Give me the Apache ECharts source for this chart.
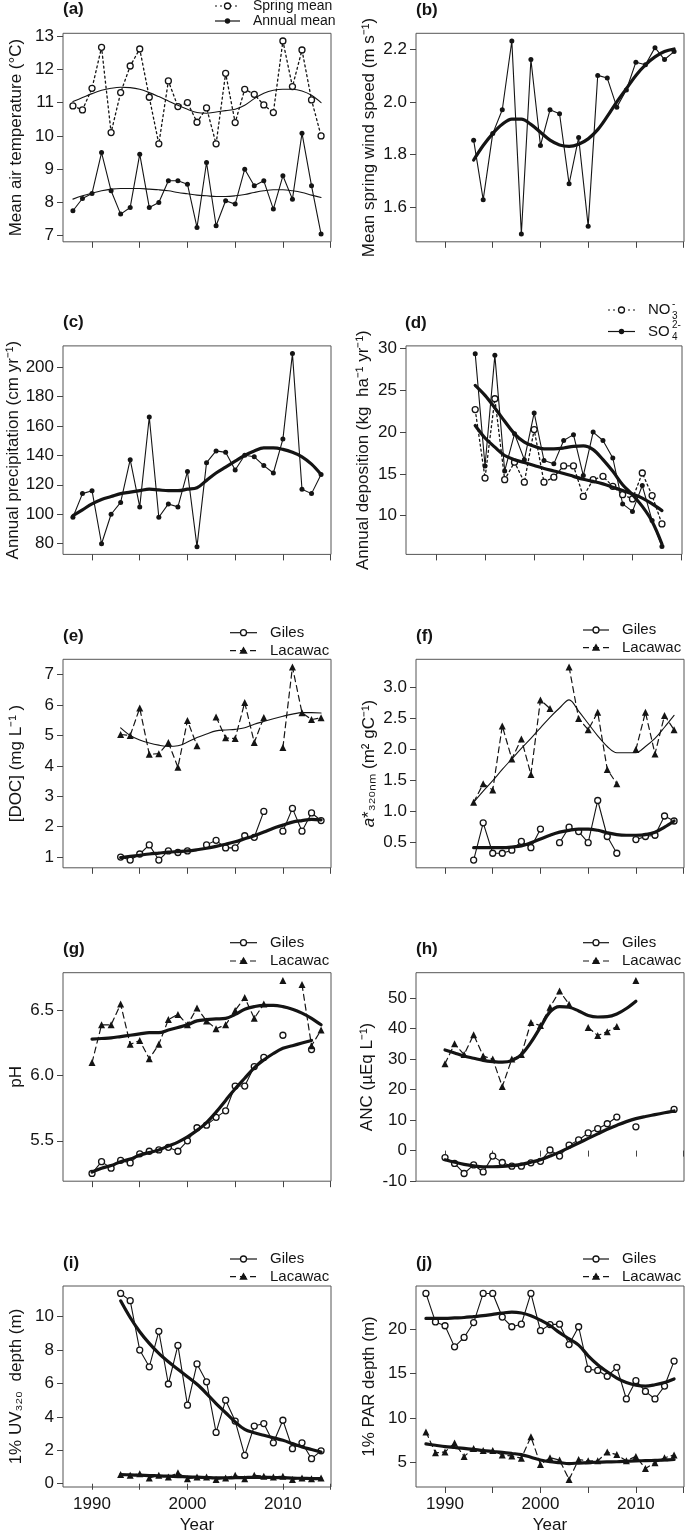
<!DOCTYPE html>
<html><head><meta charset="utf-8">
<script src="https://cdn.jsdelivr.net/npm/echarts@6/dist/echarts.min.js"></script>
<style>html,body{margin:0;padding:0;background:#fff}#c{width:685px;height:1535px}</style>
</head><body><div id="c"></div>
<script>
// ---------------- DATA ----------------
// (a) air temperature
const yrA = [1988,1989,1990,1991,1992,1993,1994,1995,1996,1997,1998,1999,2000,2001,2002,2003,2004,2005,2006,2007,2008,2009,2010,2011,2012,2013,2014];
const springMean = [10.90,10.78,11.43,12.66,10.10,11.30,12.10,12.61,11.16,9.76,11.65,10.88,11.00,10.41,10.84,9.76,11.88,10.40,11.40,11.25,10.93,10.70,12.85,11.48,12.58,11.08,10.00];
const annualMean = [7.75,8.12,8.27,9.50,8.35,7.65,7.85,9.45,7.85,8.00,8.65,8.65,8.55,7.25,9.20,7.30,8.05,7.95,9.00,8.50,8.65,7.80,8.80,8.10,10.08,8.50,7.05];
const springSmooth = [11.03,11.15,11.27,11.37,11.43,11.46,11.45,11.40,11.30,11.18,11.05,10.92,10.80,10.70,10.68,10.72,10.76,10.80,10.92,11.12,11.28,11.37,11.40,11.40,11.35,11.22,11.00];
const annualSmooth = [8.10,8.20,8.28,8.35,8.40,8.42,8.42,8.42,8.40,8.38,8.35,8.30,8.26,8.22,8.20,8.18,8.18,8.20,8.24,8.30,8.35,8.38,8.38,8.35,8.30,8.22,8.15];
// (b) wind speed
const yrB = [1993,1994,1995,1996,1997,1998,1999,2000,2001,2002,2003,2004,2005,2006,2007,2008,2009,2010,2011,2012,2013,2014];
const windSpeed = [1.855,1.63,1.88,1.97,2.23,1.50,2.16,1.835,1.97,1.955,1.69,1.865,1.53,2.10,2.09,1.98,2.045,2.15,2.14,2.205,2.16,2.19];
const windSmooth = [1.78,1.835,1.88,1.915,1.935,1.935,1.915,1.885,1.855,1.837,1.832,1.84,1.86,1.895,1.945,2.0,2.05,2.1,2.14,2.17,2.19,2.2];
// (c) precipitation
const yrC = yrA;
const precip = [98,114,116,80,100,108,137,105,166,98,107,105,129,78,135,143,142,130,140,139,133,128,151,209,117,114,127];
const precipSmooth = [99,103,107,110,112,114,115,116,117,116.5,116,116,117,118,123,128,132,136,140,143,145,145,144,142,139,134,127];
// (d) deposition
const yrD = [1994,1995,1996,1997,1998,1999,2000,2001,2002,2003,2004,2005,2006,2007,2008,2009,2010,2011,2012,2013];
const no3 = [22.7,14.5,24.0,14.3,16.4,14.0,20.3,14.0,14.6,15.95,15.95,12.3,14.3,14.7,13.5,12.5,12.0,15.1,12.4,9.0];
const so4 = [29.4,15.95,29.2,15.35,19.8,16.7,22.3,16.6,16.2,19.0,19.7,14.8,20.0,19.0,16.9,11.4,10.5,13.6,9.4,6.3];
const so4Smooth = [25.6,24.4,22.9,21.3,19.8,18.8,18.3,18.0,18.0,18.1,18.3,18.35,17.9,16.7,15.3,13.7,12.5,11.1,9.3,6.6];
const no3Smooth = [20.8,19.3,18.2,17.2,16.7,16.35,16.0,15.65,15.35,15.05,14.7,14.35,14.1,13.8,13.4,13.0,12.6,12.1,11.4,10.6];
// (e) DOC
const yrE = yrB;
const docGiles = [1.0,0.9,1.1,1.4,0.9,1.2,1.15,1.2,null,1.4,1.55,1.3,1.3,1.7,1.65,2.5,null,1.85,2.6,1.85,2.45,2.2];
const docLacawac = [5.03,5.0,5.9,4.38,4.4,4.77,3.95,5.49,4.66,null,5.61,4.92,4.9,6.08,4.77,5.59,null,4.6,7.25,5.75,5.52,5.58];
const docGilesSmooth = [0.98,1.02,1.06,1.1,1.13,1.16,1.18,1.2,1.24,1.29,1.35,1.42,1.5,1.6,1.7,1.82,1.95,2.05,2.15,2.2,2.24,2.22];
const docLacSmooth = [5.25,5.0,4.85,4.75,4.68,4.64,4.66,4.78,4.93,5.05,5.15,5.18,5.2,5.25,5.37,5.46,5.55,5.63,5.7,5.75,5.75,5.74];
// (f) a*320
const yrF = yrB;
const a320Giles = [0.22,0.82,0.33,0.33,0.38,0.52,0.42,0.72,null,0.5,0.75,0.68,0.5,1.18,0.6,0.33,null,0.55,0.6,0.62,0.93,0.85];
const a320Lac = [1.15,1.45,1.35,2.38,1.85,2.17,1.6,2.8,2.66,null,3.33,2.5,2.32,2.6,1.68,1.45,null,2.0,2.6,1.93,2.55,2.32];
const a320GilesSmooth = [0.42,0.42,0.42,0.42,0.43,0.45,0.5,0.56,0.62,0.67,0.7,0.72,0.72,0.7,0.66,0.63,0.62,0.62,0.63,0.67,0.75,0.85];
const a320LacSmooth = [1.15,1.33,1.5,1.68,1.85,2.02,2.18,2.35,2.52,2.67,2.8,2.62,2.42,2.22,2.05,1.95,1.95,1.95,2.05,2.18,2.36,2.55];
// (g) pH
const yrG = [1990,1991,1992,1993,1994,1995,1996,1997,1998,1999,2000,2001,2002,2003,2004,2005,2006,2007,2008,2009,2010,2011,2012,2013,2014];
const phGiles = [5.25,5.34,5.29,5.35,5.33,5.4,5.42,5.43,5.45,5.42,5.5,5.6,5.62,5.68,5.73,5.92,5.92,6.07,6.14,null,6.31,null,null,6.2,null];
const phLac = [6.1,6.39,6.39,6.55,6.24,6.27,6.13,6.24,6.43,6.47,6.39,6.52,6.42,6.36,6.39,6.5,6.6,6.44,6.55,null,6.73,null,6.7,6.23,6.35];
const phGilesSmooth = [5.26,5.29,5.31,5.34,5.36,5.39,5.41,5.43,5.46,5.49,5.53,5.58,5.64,5.72,5.81,5.9,5.98,6.06,6.12,6.17,6.21,6.23,6.25,6.27,null];
const phLacSmooth = [6.28,6.285,6.29,6.3,6.31,6.32,6.33,6.33,6.35,6.37,6.39,6.42,6.43,6.435,6.44,6.47,6.51,6.53,6.54,6.54,6.53,6.51,6.48,6.44,6.39];
// (h) ANC
const yrH = yrG;
const ancGiles = [-2.3,-4.2,-7.5,-4.7,-7.0,-1.8,-3.9,-5.1,-5.1,-4.0,-3.5,0.2,-1.8,1.8,3.5,5.8,7.2,8.8,11.0,null,7.8,null,null,null,13.5];
const ancLac = [28.5,35,31.5,38,31,30,21,30,31.5,42,41,47,52.3,48,null,40.4,37.7,39,40.7,null,55.8,null,null,null,null];
const ancGilesSmooth = [-3.0,-3.8,-4.5,-5.0,-5.3,-5.3,-5.2,-4.9,-4.5,-3.8,-3.0,-1.8,-0.5,1.0,2.5,4.0,5.5,7.0,8.3,9.5,10.5,11.2,11.8,12.4,13.0];
const ancLacSmooth = [33,32,31,30.3,29.6,29.2,29.0,29.5,31.5,35.5,40.5,45.5,47.2,47.0,45.8,44.3,43.8,43.9,44.8,46.6,49.0,null,null,null,null];
// (i) UV320 depth
const yrI = yrB;
const uvGiles = [11.39,10.96,8.0,7.0,9.12,5.97,8.28,4.7,7.17,6.1,3.07,5.0,3.75,1.7,3.45,3.6,2.45,3.8,2.1,2.45,1.5,1.97];
const uvLac = [0.55,0.5,0.6,0.35,0.5,0.4,0.65,0.3,0.4,0.4,0.25,0.35,0.5,0.3,0.5,0.45,0.4,0.45,0.25,0.35,0.3,0.35];
const uvGilesSmooth = [10.95,9.95,9.1,8.4,7.8,7.3,6.85,6.4,5.95,5.4,4.8,4.25,3.7,3.25,3.05,2.9,2.75,2.6,2.4,2.2,2.05,1.9];
const uvLacSmooth = [0.55,0.53,0.51,0.49,0.47,0.45,0.43,0.41,0.39,0.37,0.35,0.35,0.36,0.37,0.38,0.38,0.37,0.36,0.34,0.32,0.31,0.3];
// (j) PAR depth
const yrJ = yrA;
const parGiles = [24.0,20.8,20.37,18.0,19.06,20.73,24.0,24.0,21.35,20.26,20.55,24.0,19.82,20.5,20.55,18.26,20.26,15.5,15.35,14.7,15.7,12.15,14.2,13.0,12.15,13.6,16.4];
const parLac = [8.45,6.1,6.2,7.2,5.7,6.6,6.35,6.35,5.85,5.75,5.5,7.9,4.8,5.55,5.3,3.1,5.35,5.2,5.2,6.2,5.9,5.2,5.7,4.35,5.0,5.55,5.85];
const parGilesSmooth = [21.2,21.2,21.2,21.25,21.3,21.4,21.5,21.65,21.8,21.9,21.8,21.5,21.0,20.4,19.6,18.9,18.2,17.0,16.0,15.2,14.5,14.0,13.7,13.6,13.75,14.0,14.4];
const parLacSmooth = [7.1,6.95,6.8,6.7,6.6,6.48,6.35,6.25,6.15,6.03,5.9,5.6,5.3,5.1,5.0,4.9,4.95,5.0,5.05,5.08,5.1,5.15,5.2,5.22,5.25,5.3,5.35];
// tick labels
const xTicks = [1990,1995,2000,2005,2010,2015];
const xLabels = [1990,2000,2010];

// ---------------- CHART ----------------
const FONT = '"Liberation Sans", Arial, Helvetica, sans-serif';
const INK = '#141414';
const LW = 268, RL = 416, LL = 63, H = 208.5;
const rows = [33.3, 345.9, 659.3, 972.7, 1286];

const panels = [
  {lab:'(a)', left:LL, top:rows[0], w:LW, ymin:6.818, ymax:13.082, ticks:[7,8,9,10,11,12,13], dec:0, name:'Mean air temperature (°C)', gap:38},
  {lab:'(b)', left:RL, top:rows[0], w:LW, ymin:1.4708, ymax:2.2592, ticks:[1.6,1.8,2.0,2.2], dec:1, name:'Mean spring wind speed (m s\u207B\u00B9)', gap:38},
  {lab:'(c)', left:LL, top:rows[1], w:LW, ymin:72.76, ymax:214.24, ticks:[80,100,120,140,160,180,200], dec:0, name:'Annual precipitation (cm yr\u207B\u00B9)', gap:40},
  {lab:'(d)', left:406, top:rows[1], w:276, ymin:5.35, ymax:30.33, ticks:[10,15,20,25,30], dec:0, name:'Annual deposition (kg  ha\u207B\u00B9 yr\u207B\u00B9)', gap:34},
  {lab:'(e)', left:LL, top:rows[2], w:LW, ymin:0.646, ymax:7.504, ticks:[1,2,3,4,5,6,7], dec:0, name:'[DOC] (mg L\u207B\u00B9 )', gap:38},
  {lab:'(f)', left:RL, top:rows[2], w:LW, ymin:0.096, ymax:3.454, ticks:[0.5,1.0,1.5,2.0,2.5,3.0], dec:1, name:'{i|a}*\u2083\u2082\u2080\u2099\u2098 (m\u00B2 gC\u207B\u00B9)', gap:38},
  {lab:'(g)', left:LL, top:rows[3], w:LW, ymin:5.19, ymax:6.79, ticks:[5.5,6.0,6.5], dec:1, name:'pH', gap:38},
  {lab:'(h)', left:RL, top:rows[3], w:LW, ymin:-10.03, ymax:58.33, ticks:[-10,0,10,20,30,40,50], dec:0, name:'ANC (\u00B5Eq L\u207B\u00B9)', gap:40},
  {lab:'(i)', left:LL, top:rows[4], w:LW, ymin:-0.196, ymax:11.836, ticks:[0,2,4,6,8,10], dec:0, name:'1% UV\u2083\u2082\u2080  depth (m)', gap:38},
  {lab:'(j)', left:RL, top:rows[4], w:LW, ymin:2.264, ymax:24.836, ticks:[5,10,15,20], dec:0, name:'1% PAR depth (m)', gap:38}
];

const grids = [], xAxes = [], yAxes = [];
panels.forEach((p, i) => {
  const bottom = i >= 8;
  grids.push({left:p.left, top:p.top, width:p.w, height:H, show:true, borderColor:'#555', borderWidth:1, backgroundColor:'transparent', containLabel:false});
  xAxes.push({type:'value', gridIndex:i, min:1986.96, max:2015.04,
    axisLine:{show:false}, splitLine:{show:false},
    axisTick:{show:true, length:6, customValues:xTicks, lineStyle:{color:'#444', width:1}},
    axisLabel:{show:bottom, customValues:xLabels, margin:9, fontSize:17, color:INK, fontFamily:FONT,
      formatter: v => String(Math.round(v))},
    name: bottom ? 'Year' : '', nameLocation:'middle', nameGap:30,
    nameTextStyle:{fontSize:17, color:INK, fontFamily:FONT}});
  yAxes.push({type:'value', gridIndex:i, min:p.ymin, max:p.ymax,
    axisLine:{show:false}, splitLine:{show:false},
    axisTick:{show:true, length:6, customValues:p.ticks, lineStyle:{color:'#444', width:1}},
    axisLabel:{customValues:p.ticks, margin:9, fontSize:17, color:INK, fontFamily:FONT,
      formatter: v => p.dec ? Number(v).toFixed(p.dec) : String(Math.round(v))},
    name:p.name, nameLocation:'middle', nameGap:p.gap, nameRotate:90,
    nameTextStyle:{fontSize:17, color:INK, fontFamily:FONT, rich:{i:{fontStyle:'italic', fontSize:17, fontFamily:FONT, color:INK}}}});
});

function pair(years, vals){ return years.map((y,k) => [y, vals[k] == null ? '-' : vals[k]]); }

const STY = {
  openDot:  {line:{width:1.3, type:[2,3]}, sym:'circle', size:6, item:{color:'#fff', borderColor:INK, borderWidth:1.3}},
  filled:   {line:{width:1.1, type:'solid'}, sym:'circle', size:5, item:{color:INK}},
  openSolid:{line:{width:1.1, type:'solid'}, sym:'circle', size:6, item:{color:'#fff', borderColor:INK, borderWidth:1.3}},
  triDash:  {line:{width:1.2, type:[6,4]}, sym:'triangle', size:7, item:{color:INK}},
  smThin:   {line:{width:1.1, type:'solid'}, sym:'none'},
  smThick:  {line:{width:3.2, type:'solid'}, sym:'none'}
};
const series = [];
function add(pi, years, vals, kind){
  const s = STY[kind];
  series.push({type:'line', xAxisIndex:pi, yAxisIndex:pi, data:pair(years, vals),
    symbol:s.sym, symbolSize:s.size || 0, showSymbol: s.sym !== 'none',
    smooth: s.sym === 'none' ? 0.35 : false, connectNulls:false,
    lineStyle:{color:INK, width:s.line.width, type:s.line.type, cap:'round', join:'round'},
    itemStyle:s.item || {color:INK}, emphasis:{disabled:true}, silent:true, z: s.sym === 'none' ? 3 : 2});
}
// (a)
add(0, yrA, springSmooth, 'smThin'); add(0, yrA, annualSmooth, 'smThin');
add(0, yrA, springMean, 'openDot'); add(0, yrA, annualMean, 'filled');
// (b)
add(1, yrB, windSpeed, 'filled'); add(1, yrB, windSmooth, 'smThick');
// (c)
add(2, yrC, precip, 'filled'); add(2, yrC, precipSmooth, 'smThick');
// (d)
add(3, yrD, no3, 'openDot'); add(3, yrD, so4, 'filled');
add(3, yrD, so4Smooth, 'smThick'); add(3, yrD, no3Smooth, 'smThick');
// (e)
add(4, yrE, docGiles, 'openSolid'); add(4, yrE, docLacawac, 'triDash');
add(4, yrE, docGilesSmooth, 'smThick'); add(4, yrE, docLacSmooth, 'smThin');
// (f)
add(5, yrF, a320Giles, 'openSolid'); add(5, yrF, a320Lac, 'triDash');
add(5, yrF, a320GilesSmooth, 'smThick'); add(5, yrF, a320LacSmooth, 'smThin');
// (g)
add(6, yrG, phGiles, 'openSolid'); add(6, yrG, phLac, 'triDash');
add(6, yrG, phGilesSmooth, 'smThick'); add(6, yrG, phLacSmooth, 'smThick');
// (h)
add(7, yrH, ancGiles, 'openSolid'); add(7, yrH, ancLac, 'triDash');
add(7, yrH, ancGilesSmooth, 'smThick'); add(7, yrH, ancLacSmooth, 'smThick');
// (i)
add(8, yrI, uvGiles, 'openSolid'); add(8, yrI, uvLac, 'triDash');
add(8, yrI, uvGilesSmooth, 'smThick'); add(8, yrI, uvLacSmooth, 'smThick');
// (j)
add(9, yrJ, parGiles, 'openSolid'); add(9, yrJ, parLac, 'triDash');
add(9, yrJ, parGilesSmooth, 'smThick'); add(9, yrJ, parLacSmooth, 'smThick');

// ---------------- GRAPHIC: panel labels + legends ----------------
const graphic = [];
const labelPos = [[63,9.5],[416,10],[63,322.7],[405,323.3],[63,636],[416,636],[63,949],[416,949],[63,1263],[416,1263]];
panels.forEach((p,i) => graphic.push({type:'text', x:labelPos[i][0], y:labelPos[i][1],
  style:{text:p.lab, fontSize:17, fontWeight:'bold', fontFamily:FONT, fill:INK, verticalAlign:'middle', align:'left'}}));

function legItem(x1, x2, y, dash, sym, text, fs){
  const cx = (x1 + x2) / 2;
  graphic.push({type:'line', shape:{x1:x1, y1:y, x2:x2, y2:y}, style:{stroke:INK, lineWidth:1.2, lineDash:dash}});
  if (sym === 'open') graphic.push({type:'circle', shape:{cx:cx, cy:y, r:3}, style:{fill:'#fff', stroke:INK, lineWidth:1.3}});
  if (sym === 'fill') graphic.push({type:'circle', shape:{cx:cx, cy:y, r:2.7}, style:{fill:INK}});
  if (sym === 'tri') graphic.push({type:'polygon', shape:{points:[[cx,y-4.2],[cx+4.2,y+3],[cx-4.2,y+3]]}, style:{fill:INK}});
  if (text) graphic.push({type:'text', x:x2 + 13, y:y, style:{text:text, fontSize:fs, fontFamily:FONT, fill:INK, verticalAlign:'middle', align:'left'}});
}
// (a)
legItem(215, 240, 6, [2,3], 'open', 'Spring mean', 14);
legItem(215, 240, 21, null, 'fill', 'Annual mean', 14);
// (d)
legItem(608, 635, 310, [2,3], 'open', null, 15);
legItem(608, 635, 331.5, null, 'fill', null, 15);
[[310,'NO','3','-'],[331.5,'SO','4','2-']].forEach(([y, b, sub, sup]) => {
  graphic.push({type:'text', x:648, y:y, style:{text:b, fontSize:15, fontFamily:FONT, fill:INK, verticalAlign:'middle', align:'left'}});
  graphic.push({type:'text', x:672, y:y + 6, style:{text:sub, fontSize:10, fontFamily:FONT, fill:INK, verticalAlign:'middle', align:'left'}});
  graphic.push({type:'text', x:672, y:y - 6, style:{text:sup, fontSize:10, fontFamily:FONT, fill:INK, verticalAlign:'middle', align:'left'}});
});
// (e)-(j)
[[230,257,632.7,650.7],[583,609,630,647.7],[230,257,942.7,961],[583,609,942.7,961],[230,257,1259,1276.7],[583,609,1259,1276.7]]
  .forEach(([x1,x2,y1,y2]) => {
    legItem(x1, x2, y1, null, 'open', 'Giles', 15);
    legItem(x1, x2, y2, [6,4], 'tri', 'Lacawac', 15);
  });

const chart = echarts.init(document.getElementById('c'), null, {renderer:'canvas'});
chart.setOption({animation:false, backgroundColor:'#fff', grid:grids, xAxis:xAxes, yAxis:yAxes, series:series, graphic:graphic});
</script>
</body></html>
